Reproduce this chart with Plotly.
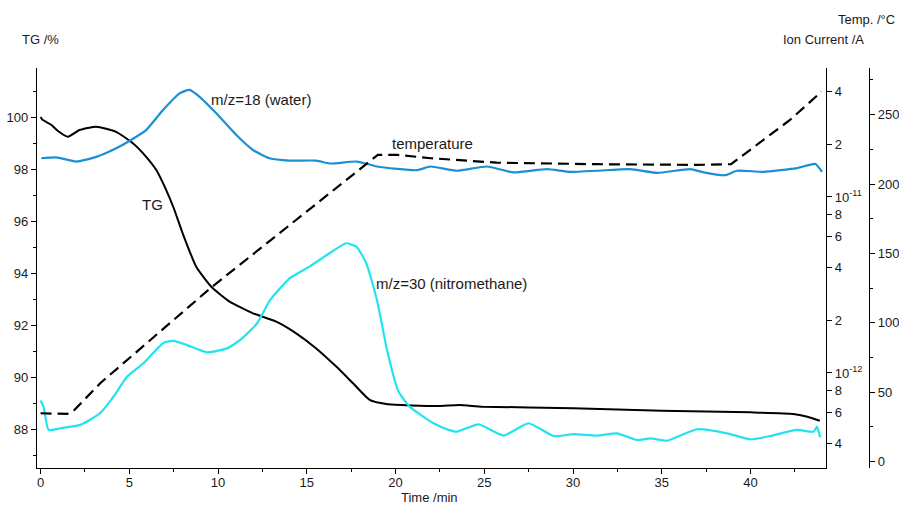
import plotly.graph_objects as go

# TG mass curve (%)
tg_time = [0.0, 0.1, 0.6, 1.0, 1.54, 2.2, 3.14, 4.26, 5.2, 5.95, 6.52, 7.08, 7.5, 8.02,
           8.77, 9.62, 10.65, 11.97, 13.28, 14.4, 15.53, 16.66, 17.6, 18.54, 19.48,
           22.3, 23.6, 24.9, 30.0, 35.0, 40.0, 42.4, 43.2, 43.9]
tg_mass = [100.0, 99.9, 99.7, 99.45, 99.24, 99.5, 99.63, 99.43, 98.99, 98.47, 97.96, 97.19,
           96.5, 95.5, 94.24, 93.47, 92.9, 92.45, 92.13, 91.68, 91.1, 90.4, 89.76, 89.12,
           88.96, 88.88, 88.92, 88.86, 88.8, 88.7, 88.64, 88.58, 88.47, 88.32]

# Furnace temperature (deg C)
temp_time = [0.0, 1.1, 1.5, 1.9, 3.36, 8.8, 9.52, 19.0, 20.1, 22.0, 25.7, 31.35, 37.0, 38.9,
             42.2, 44.0]
temp_degc = [34.9, 34.4, 34.4, 37.2, 56.5, 116.5, 124.5, 221.0, 221.0, 218.6, 215.4, 214.3,
             213.8, 214.3, 246.0, 266.6]

# Ion current m/z = 18 (water), A
water_time = [0.04, 0.88, 2.01, 3.14, 4.26, 5.39, 5.95, 6.9, 7.83, 8.39, 8.96, 9.9, 11.03,
              11.97, 12.9, 14.03, 15.53, 16.32, 17.83, 18.95, 21.2, 21.96, 23.46, 25.15,
              26.65, 28.53, 29.84, 31.35, 33.22, 34.73, 36.6, 37.35, 38.57, 39.23, 40.73,
              42.61, 43.65, 44.02]
water_ion = [1.66e-11, 1.68e-11, 1.59e-11, 1.69e-11, 1.89e-11, 2.20e-11, 2.40e-11, 3.12e-11,
             3.88e-11, 4.06e-11, 3.71e-11, 2.99e-11, 2.25e-11, 1.85e-11, 1.66e-11, 1.61e-11,
             1.61e-11, 1.55e-11, 1.59e-11, 1.49e-11, 1.42e-11, 1.49e-11, 1.41e-11, 1.49e-11,
             1.38e-11, 1.44e-11, 1.39e-11, 1.41e-11, 1.44e-11, 1.37e-11, 1.44e-11, 1.38e-11,
             1.33e-11, 1.41e-11, 1.39e-11, 1.46e-11, 1.54e-11, 1.39e-11]

# Ion current m/z = 30 (nitromethane), A
nitro_time = [0.0, 0.17, 0.45, 1.11, 2.24, 3.36, 4.11, 4.87, 5.8, 6.93, 7.49, 8.25, 9.37,
              10.5, 11.25, 12.19, 12.94, 14.03, 15.15, 16.28, 17.22, 17.79, 18.35, 18.95,
              19.52, 20.15, 20.79, 22.14, 22.99, 23.46, 24.68, 26.08, 27.49, 28.9, 30.03,
              31.35, 32.47, 33.6, 34.35, 35.29, 36.98, 38.67, 39.98, 41.11, 42.61, 43.55,
              43.74, 43.92]
nitro_ion = [6.97e-13, 6.44e-13, 4.75e-13, 4.85e-13, 5.07e-13, 5.91e-13, 7.33e-13, 9.53e-13,
             1.135e-12, 1.486e-12, 1.52e-12, 1.44e-12, 1.31e-12, 1.38e-12, 1.54e-12,
             1.91e-12, 2.60e-12, 3.45e-12, 4.02e-12, 4.79e-12, 5.46e-12, 5.22e-12, 4.20e-12,
             2.60e-12, 1.35e-12, 7.9e-13, 6.44e-13, 5.18e-13, 4.75e-13, 4.64e-13, 5.11e-13,
             4.41e-13, 5.18e-13, 4.38e-13, 4.49e-13, 4.41e-13, 4.54e-13, 4.16e-13, 4.25e-13,
             4.12e-13, 4.79e-13, 4.54e-13, 4.20e-13, 4.38e-13, 4.75e-13, 4.64e-13, 4.95e-13,
             4.31e-13]

# Ion current axis ticks
ion_tickvals = [4e-11, 2e-11, 1e-11, 8e-12, 6e-12, 4e-12, 2e-12, 1e-12, 8e-13, 6e-13, 4e-13]
ion_ticktext = ["4", "2", "10<sup>-11</sup>", "8", "6", "4", "2", "10<sup>-12</sup>",
                "8", "6", "4"]

FONT = "Liberation Sans, Arial, sans-serif"
INK = "#1a1a1a"
WATER = "#1b8fd4"
NITRO = "#22e3ef"

fig = go.Figure()

fig.add_trace(go.Scatter(x=tg_time, y=tg_mass, mode="lines", yaxis="y",
                         line=dict(color="black", width=2, shape="spline", smoothing=0.5),
                         name="TG"))
fig.add_trace(go.Scatter(x=water_time, y=water_ion, mode="lines", yaxis="y2",
                         line=dict(color=WATER, width=2.2, shape="spline", smoothing=0.5),
                         name="m/z=18"))
fig.add_trace(go.Scatter(x=nitro_time, y=nitro_ion, mode="lines", yaxis="y2",
                         line=dict(color=NITRO, width=2.2, shape="spline", smoothing=0.5),
                         name="m/z=30"))
fig.add_trace(go.Scatter(x=temp_time, y=temp_degc, mode="lines", yaxis="y3",
                         line=dict(color="black", width=2.2, dash="11px,6px"),
                         name="temperature"))

axis_common = dict(showgrid=False, zeroline=False, showline=True, linecolor="black",
                   linewidth=1.3, ticks="outside", ticklen=5, tickcolor="black",
                   automargin=False,
                   tickfont=dict(family=FONT, size=13, color=INK))

fig.update_layout(
    width=899, height=506,
    margin=dict(l=37, r=20, t=68, b=38, autoexpand=False),
    paper_bgcolor="white", plot_bgcolor="white",
    showlegend=False,
    font=dict(family=FONT, size=13, color=INK),
    xaxis=dict(domain=[0, 0.9371], range=[-0.2, 44.25], tickvals=[0, 5, 10, 15, 20, 25, 30, 35, 40],
               minor=dict(dtick=2.5, tick0=0, ticklen=3, ticks="outside", tickcolor="black"),
               anchor="y", ticklabelstandoff=-3, **axis_common),
    yaxis=dict(range=[86.5, 101.885], tickvals=[88, 90, 92, 94, 96, 98, 100],
               minor=dict(dtick=1, tick0=0, ticklen=3, ticks="outside", tickcolor="black"),
               anchor="x", **axis_common),
    yaxis2=dict(type="log", range=[-12.540, -10.267], overlaying="y", side="right",
                anchor="x", tickmode="array", tickvals=ion_tickvals, ticktext=ion_ticktext,
                **axis_common),
    yaxis3=dict(range=[-4.54, 283.6], overlaying="y", side="right", anchor="free",
                position=0.9881, tickvals=[0, 50, 100, 150, 200, 250],
                minor=dict(dtick=25, tick0=0, ticklen=3, ticks="outside", tickcolor="black"),
                **axis_common),
)

ann_font = dict(family=FONT, size=15, color=INK)
title_font = dict(family=FONT, size=13, color=INK)

# curve labels
fig.add_annotation(x=12.43, y=100.68, xref="x", yref="y", text="m/z=18 (water)",
                   showarrow=False, font=ann_font, yanchor="middle")
fig.add_annotation(x=22.07, y=98.99, xref="x", yref="y", text="temperature",
                   showarrow=False, font=ann_font, yanchor="middle")
fig.add_annotation(x=6.28, y=96.62, xref="x", yref="y", text="TG",
                   showarrow=False, font=ann_font, yanchor="middle")
fig.add_annotation(x=23.14, y=93.6, xref="x", yref="y", text="m/z=30 (nitromethane)",
                   showarrow=False, font=ann_font, yanchor="middle")

# axis titles
fig.add_annotation(x=-0.0202, y=1.07, xref="paper", yref="paper", text="TG /%",
                   xanchor="left", yanchor="middle", showarrow=False, font=title_font)
fig.add_annotation(x=1.0214, y=1.12, xref="paper", yref="paper", text="Temp. /°C",
                   xanchor="right", yanchor="middle", showarrow=False, font=title_font)
fig.add_annotation(x=0.9846, y=1.07, xref="paper", yref="paper", text="Ion Current /A",
                   xanchor="right", yanchor="middle", showarrow=False, font=title_font)
fig.add_annotation(x=0.4656, y=-0.0725, xref="paper", yref="paper", text="Time /min",
                   yanchor="middle", showarrow=False, font=title_font)

fig.write_html("out.html")
